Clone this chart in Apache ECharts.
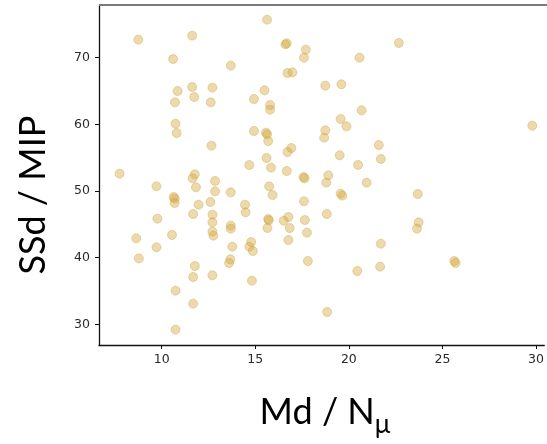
<!DOCTYPE html>
<html>
<head>
<meta charset="utf-8">
<script src="https://cdn.jsdelivr.net/npm/echarts@6/dist/echarts.min.js"></script>
<style>
  html, body { margin: 0; padding: 0; background: #fff; overflow: hidden; }
  #chart { width: 547px; height: 444px; }
</style>
</head>
<body>
<div id="chart"></div>
<script>
// Md / N_mu per sample
const mdPerN = [
  8.75, 11.63, 10.61, 13.69, 10.85, 11.63, 12.71, 10.71, 11.74, 12.62,
  10.74, 10.80, 12.66, 7.75, 11.77, 11.65, 14.68, 15.63, 16.61, 16.68,
  17.70, 17.60, 20.57, 16.72, 16.98, 18.74, 19.60, 15.49, 14.93, 15.79,
  15.79, 20.68, 19.56, 19.87, 14.93, 15.57, 15.63, 15.69, 18.74, 18.68,
  21.60, 16.72, 16.93, 19.51, 21.71, 15.60, 15.84, 16.68, 20.49, 22.67,
  29.80, 9.72, 11.83, 12.85, 12.85, 13.69, 10.64, 10.70, 10.69, 11.97,
  12.60, 14.45, 14.48, 9.77, 11.68, 12.71, 12.71, 12.71, 12.76, 13.69,
  13.69, 8.64, 10.55, 9.72, 13.77, 14.68, 14.78, 14.87, 8.78, 13.67,
  13.60, 11.77, 11.68, 12.71, 10.74, 11.68, 10.74, 17.58, 17.63, 18.90,
  18.79, 20.95, 15.74, 15.92, 19.56, 19.65, 17.60, 18.82, 15.69, 15.72,
  15.65, 16.52, 16.77, 17.65, 16.84, 17.76, 16.77, 21.71, 17.81, 20.45,
  21.67, 14.82, 18.84, 23.68, 23.73, 23.64, 25.63, 25.70
];
// SSd / MIP per sample
const ssdPerMip = [
  72.7, 73.3, 69.8, 68.8, 65.0, 65.6, 65.5, 63.3, 64.1, 63.3,
  60.1, 58.7, 56.8, 52.6, 52.5, 51.9, 53.9, 75.7, 72.0, 72.15,
  71.2, 70.0, 70.0, 67.7, 67.8, 65.8, 66.0, 65.1, 63.8, 62.9,
  62.2, 62.1, 60.8, 59.7, 59.0, 58.75, 58.5, 57.5, 59.1, 58.0,
  56.9, 55.85, 56.45, 55.35, 54.8, 54.95, 53.5, 53.0, 53.9, 72.2,
  59.8, 50.7, 50.55, 51.5, 49.95, 49.8, 49.1, 48.85, 48.2, 47.95,
  48.35, 47.95, 46.8, 45.85, 46.55, 46.45, 45.3, 43.9, 43.3, 44.8,
  44.35, 42.9, 43.4, 41.55, 41.65, 41.65, 42.35, 41.0, 39.9, 39.75,
  39.2, 38.75, 37.1, 37.35, 35.05, 33.1, 29.2, 52.1, 51.9, 52.35,
  51.25, 51.25, 50.7, 49.4, 49.6, 49.3, 48.45, 46.55, 45.8, 45.6,
  44.45, 45.55, 46.1, 45.65, 44.45, 43.75, 42.65, 42.1, 39.5, 38.0,
  38.65, 36.55, 31.85, 49.55, 45.3, 44.35, 39.5, 39.2
];

const xTicks = [10, 15, 20, 25, 30];
const yTicks = [30, 40, 50, 60, 70];

const points = mdPerN.map((x, i) => [x, ssdPerMip[i]]);

const chart = echarts.init(document.getElementById('chart'), null, { renderer: 'canvas' });

const tickLabelStyle = {
  fontFamily: 'DejaVu Sans',
  fontSize: 12.5,
  color: '#2a2a2a'
};

chart.setOption({
  animation: false,
  backgroundColor: '#ffffff',
  grid: { left: 99, top: 5, right: 0, bottom: 99, containLabel: false },
  xAxis: {
    type: 'value',
    min: 6.65,
    max: 30.44,
    axisLine: { show: true, lineStyle: { color: '#111', width: 1.3 } },
    axisTick: { show: true, inside: false, length: 4, customValues: xTicks, lineStyle: { color: '#111', width: 1 } },
    axisLabel: { show: true, margin: 8, customValues: xTicks, ...tickLabelStyle },
    splitLine: { show: false }
  },
  yAxis: {
    type: 'value',
    min: 26.9,
    max: 77.9,
    axisLine: { show: true, lineStyle: { color: '#111', width: 1.3 } },
    axisTick: { show: true, inside: false, length: 4, customValues: yTicks, lineStyle: { color: '#111', width: 1 } },
    axisLabel: { show: true, margin: 9, customValues: yTicks, ...tickLabelStyle },
    splitLine: { show: false }
  },
  graphic: [
    {
      type: 'line',
      shape: { x1: 99, y1: 5, x2: 547, y2: 5 },
      style: { stroke: '#7a7a7a', lineWidth: 2 },
      z: 10
    },
    {
      type: 'text',
      x: 33,
      y: 195,
      rotation: Math.PI / 2,
      style: {
        text: 'SSd / MIP',
        fontFamily: 'Lato',
        fontSize: 36,
        fill: '#000',
        align: 'center',
        verticalAlign: 'middle'
      }
    },
    {
      type: 'text',
      x: 325,
      y: 412,
      style: {
        text: 'Md / N{sub|μ}',
        fontFamily: 'Lato',
        fontSize: 36,
        fill: '#000',
        align: 'center',
        verticalAlign: 'middle',
        rich: {
          sub: { fontFamily: 'Lato', fontSize: 26, fill: '#000', padding: [26, 0, 0, 0] }
        }
      }
    }
  ],
  series: [
    {
      type: 'scatter',
      data: points,
      symbol: 'circle',
      symbolSize: 9,
      itemStyle: {
        color: 'rgba(212, 165, 55, 0.52)',
        borderColor: 'rgba(200, 150, 45, 0.55)',
        borderWidth: 0.8
      }
    }
  ]
});
</script>
</body>
</html>
